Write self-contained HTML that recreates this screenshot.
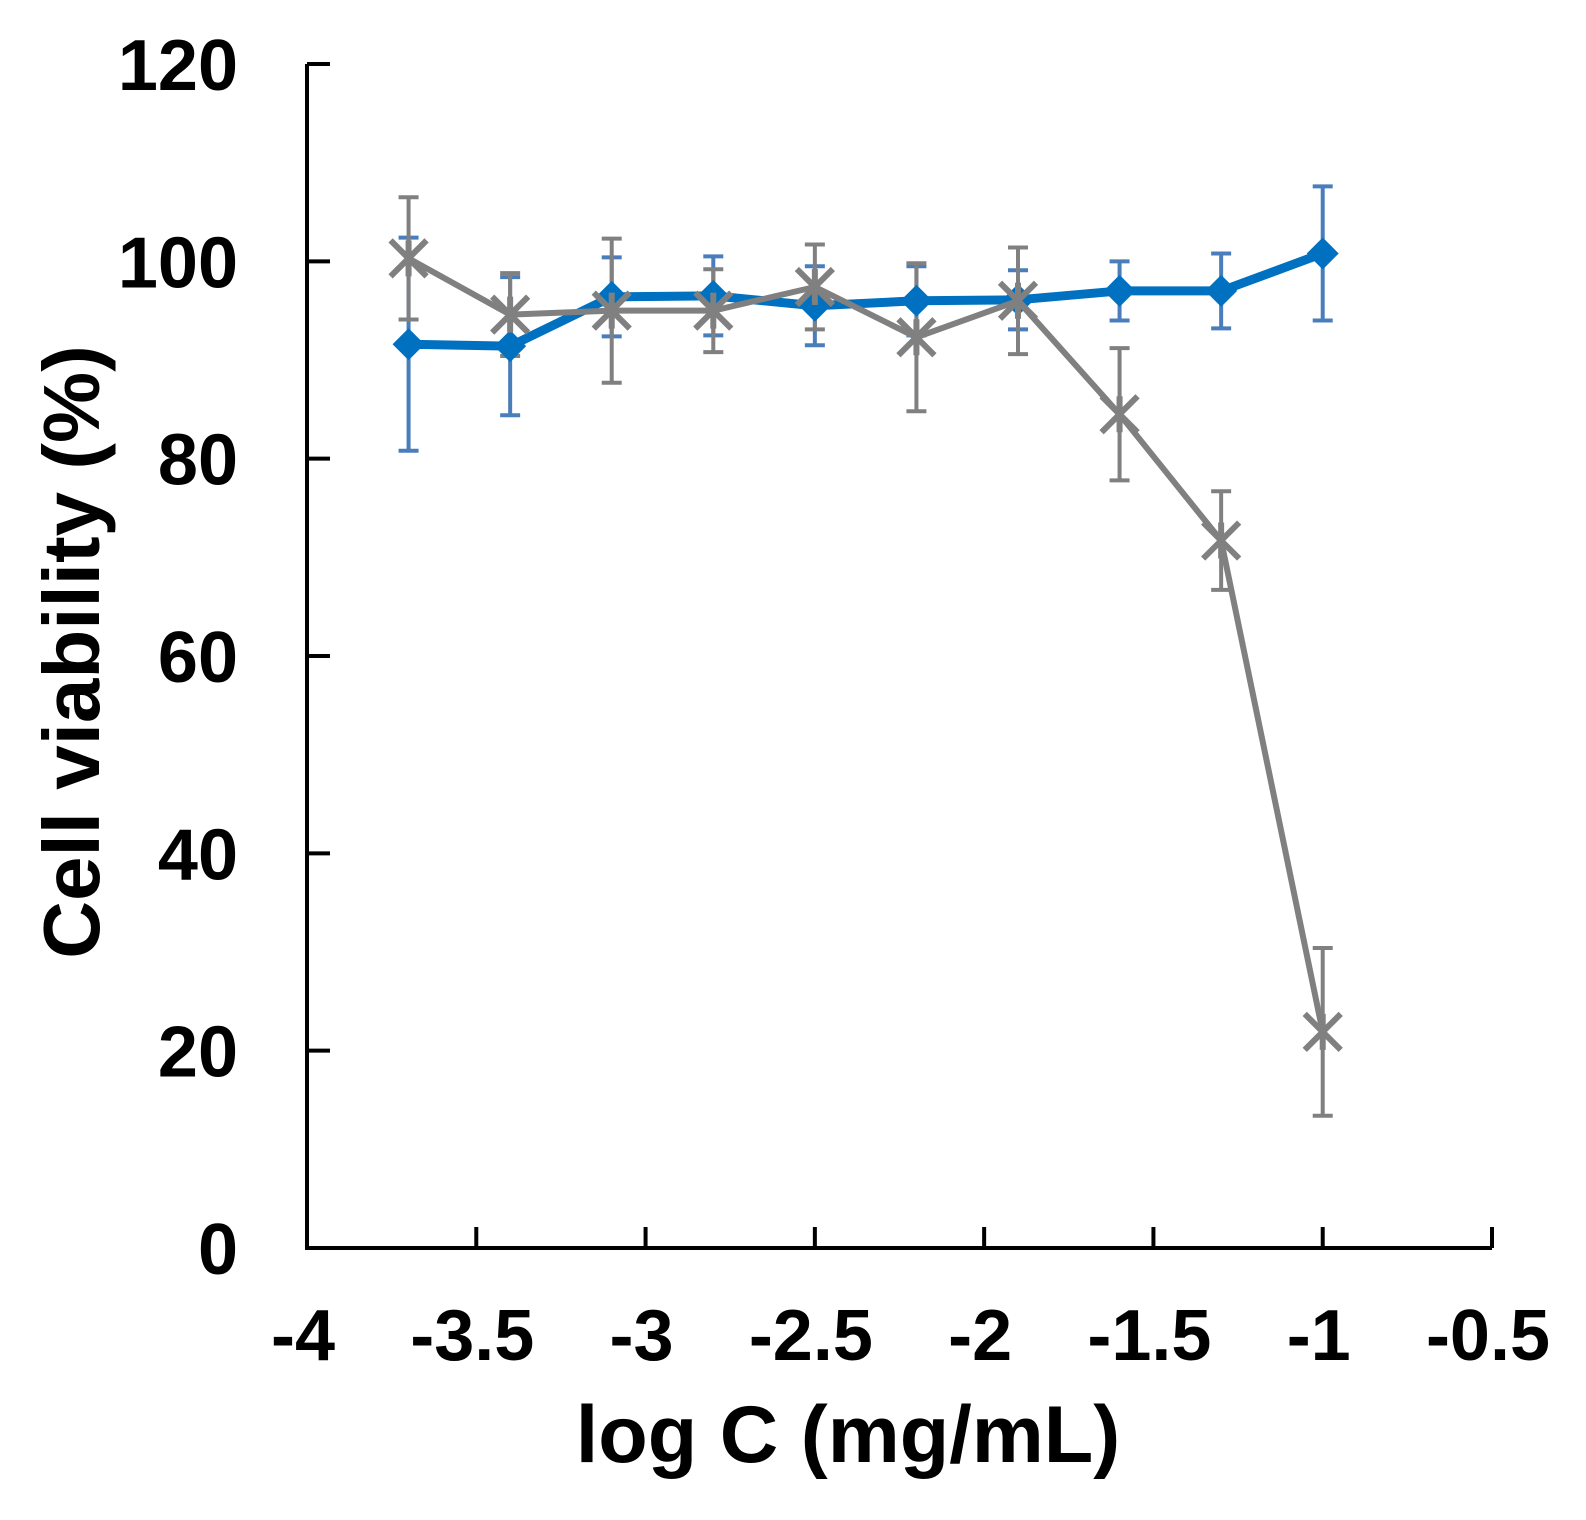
<!DOCTYPE html>
<html><head><meta charset="utf-8"><style>
html,body{margin:0;padding:0;background:#fff;}
svg{display:block;font-family:"Liberation Sans",Arial,sans-serif;font-weight:bold;}
</style></head><body>
<svg id="chart" width="1586" height="1520" viewBox="0 0 1586 1520">
<g id="plot"></g>
</svg>
<script>
const xValues = [-3.7, -3.4, -3.1, -2.8, -2.5, -2.2, -1.9, -1.6, -1.3, -1.0];
const blueValues = [91.6, 91.4, 96.4, 96.5, 95.5, 96.0, 96.1, 97.0, 97.0, 100.8];
const blueErrors = [10.8, 7.0, 4.0, 4.0, 4.0, 3.5, 3.0, 3.0, 3.8, 6.8];
const grayValues = [100.3, 94.6, 95.0, 95.0, 97.4, 92.3, 96.0, 84.5, 71.7, 21.9];
const grayErrors = [6.2, 4.2, 7.3, 4.2, 4.3, 7.5, 5.4, 6.7, 5.0, 8.5];
const xTicks = [-4, -3.5, -3, -2.5, -2, -1.5, -1, -0.5];
const xTickLabels = ["-4", "-3.5", "-3", "-2.5", "-2", "-1.5", "-1", "-0.5"];
const yTicks = [0, 20, 40, 60, 80, 100, 120];
const yTickLabels = ["0", "20", "40", "60", "80", "100", "120"];

const NS = "http://www.w3.org/2000/svg";
const X0 = 307, X1 = 1492, Y0 = 1248, Y1 = 64;
function sx(v){ return X0 + (v - (-4)) / 3.5 * (X1 - X0); }
function sy(v){ return Y0 - v / 120 * (Y0 - Y1); }
const plot = document.getElementById('plot');
function mk(tag, attrs){
  const e = document.createElementNS(NS, tag);
  for (const k in attrs) e.setAttribute(k, attrs[k]);
  plot.appendChild(e);
  return e;
}

let e = mk('path', {d:`M${X0},${Y1} V${Y0} H${X1}`, fill:'none', stroke:'#000', 'stroke-width':4});


yTicks.forEach((t, i) => {
  let l = mk('line', {x1:X0, x2:X0+23, y1:sy(t), y2:sy(t), stroke:'#000', 'stroke-width':4});
  
  
  let tx = mk('text', {x:238, y:sy(t)+26, 'text-anchor':'end', 'font-size':72, fill:'#000'});
  tx.textContent = yTickLabels[i];
  
  
});
xTicks.forEach((t, i) => {
  let l = mk('line', {x1:sx(t), x2:sx(t), y1:Y0, y2:Y0-21, stroke:'#000', 'stroke-width':4});
  
  
  let tx = mk('text', {x:sx(t)-4, y:1360, 'text-anchor':'middle', 'font-size':72, fill:'#000'});
  tx.textContent = xTickLabels[i];
  
  
});
let xt = mk('text', {x:848, y:1462, 'text-anchor':'middle', 'font-size':81, fill:'#000'});
xt.textContent = 'log C (mg/mL)';


let yt = mk('text', {x:0, y:0, 'text-anchor':'middle', 'font-size':80, fill:'#000', transform:'translate(99,652) rotate(-90)'});
yt.textContent = 'Cell viability (%)';



function errorBars(vals, errs, color, name){
  vals.forEach((v, i) => {
    const x = sx(xValues[i]), t = sy(v + errs[i]), b = sy(v - errs[i]);
    let p = mk('path', {d:`M${x},${t} V${b} M${x-10},${t} H${x+10} M${x-10},${b} H${x+10}`, stroke:color, 'stroke-width':4, fill:'none'});
    
    
  });
}
function line(vals, color, w, name){
  const d = vals.map((v, i) => (i ? 'L' : 'M') + sx(xValues[i]) + ',' + sy(v)).join(' ');
  let p = mk('path', {d:d, stroke:color, 'stroke-width':w, fill:'none', 'stroke-linejoin':'round'});
  
  
}
errorBars(blueValues, blueErrors, '#4a7ebb', 'blue-error-bar');
errorBars(grayValues, grayErrors, '#808080', 'gray-error-bar');
line(blueValues, '#0070C0', 9, 'blue-series-line');
blueValues.forEach((v, i) => {
  const x = sx(xValues[i]), y = sy(v), r = 16;
  let p = mk('path', {d:`M${x},${y-r} L${x+r},${y} L${x},${y+r} L${x-r},${y} Z`, fill:'#0070C0'});
  
  
});
line(grayValues, '#808080', 6, 'gray-series-line');
grayValues.forEach((v, i) => {
  const x = sx(xValues[i]), y = sy(v), r = 18;
  let p = mk('path', {d:`M${x-r},${y-r} L${x+r},${y+r} M${x-r},${y+r} L${x+r},${y-r} M${x},${y-r} V${y+r}`, stroke:'#808080', 'stroke-width':6, fill:'none'});
  
  
});
</script>
</body></html>
